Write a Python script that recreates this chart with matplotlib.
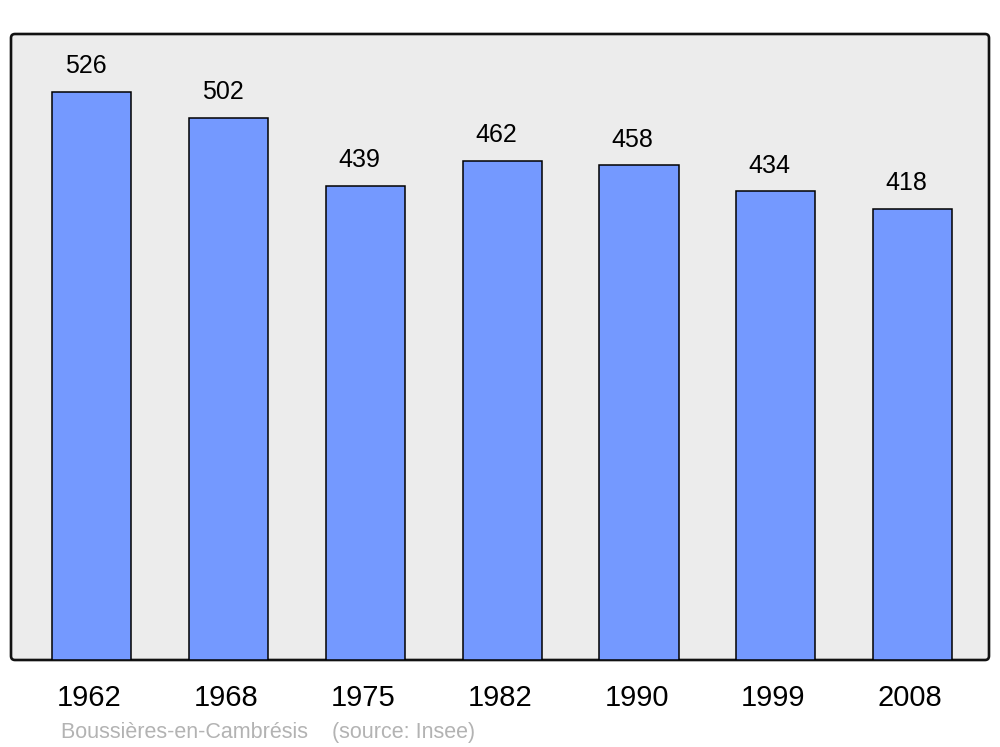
import matplotlib
matplotlib.use("Agg")
import matplotlib.pyplot as plt
from matplotlib.patches import FancyBboxPatch
from matplotlib.transforms import IdentityTransform, ScaledTranslation

years = ["1962", "1968", "1975", "1982", "1990", "1999", "2008"]
population = [526, 502, 439, 462, 458, 434, 418]
caption = "Boussières-en-Cambrésis    (source: Insee)"

plt.rcParams['font.family'] = ['Liberation Sans', 'DejaVu Sans']

W, H = 1000, 747
fig = plt.figure(figsize=(W / 100, H / 100), dpi=100)
ax_l, ax_b, ax_w, ax_h = 11, 87, 978, 626
ax = fig.add_axes([ax_l / W, ax_b / H, ax_w / W, ax_h / H])
ax.patch.set_visible(False)
for s in ax.spines.values():
    s.set_visible(False)

frame = FancyBboxPatch((ax_l, ax_b), ax_w, ax_h,
                       boxstyle="round,pad=0,rounding_size=4",
                       facecolor="#ececec", edgecolor="#111111", linewidth=1.9,
                       transform=IdentityTransform(), zorder=-1)
fig.add_artist(frame)

x = list(range(len(years)))
ax.bar(x, population, width=0.578, color="#7499ff", edgecolor="black",
       linewidth=1.1, zorder=2)
ax.set_xlim(-0.592, 6.559)
ax.set_ylim(0, 579.7)
ax.set_yticks([])
ax.set_xticks(x, years, fontsize=21)
ax.tick_params(axis='x', length=0, pad=17)
shift = ScaledTranslation(-2.5 / 100, 0, fig.dpi_scale_trans)
for lbl in ax.get_xticklabels():
    lbl.set_transform(lbl.get_transform() + shift)

for xi, v in zip(x, population):
    ax.annotate(str(v), xy=(xi, v), xytext=(-4.5, 13.5), textcoords="offset points",
                ha="center", va="baseline", fontsize=18, color="black")

fig.text(61 / W, (H - 738) / H, caption, fontsize=15.5, color="#b3b3b3",
         ha="left", va="baseline")

fig.savefig("out.png", dpi=100, facecolor="white")
